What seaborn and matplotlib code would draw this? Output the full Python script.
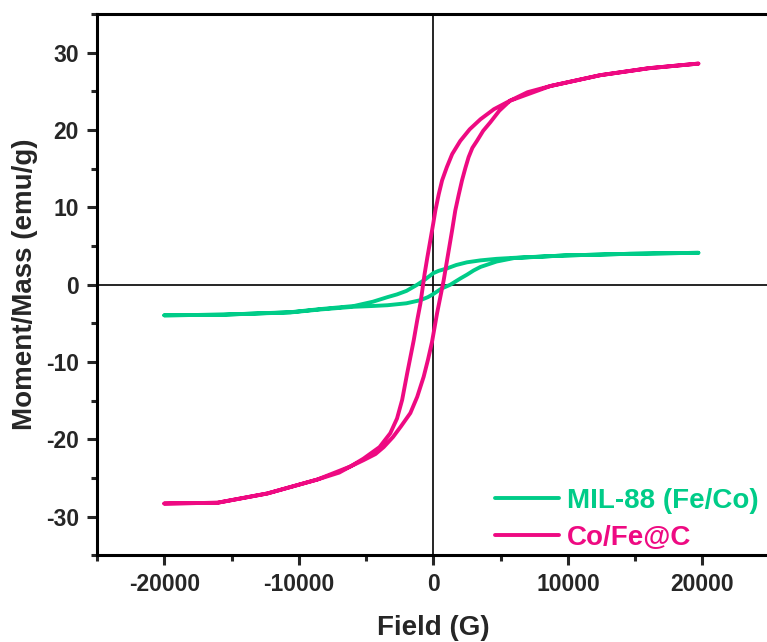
import numpy as np
import pandas as pd
import matplotlib
matplotlib.use("Agg")
import matplotlib.pyplot as plt
import seaborn as sns

# ---- data (field in G, moment in emu/g) ----
mil_desc_field = [19700, 14600, 9700, 6000, 4700, 3500, 2500, 1700, 1000, 400, 0, -600, -1200,
                  -2000, -2700, -3400, -4500, -5900, -8400, -10600, -15600, -20000]
mil_desc_moment = [4.13, 4.0, 3.78, 3.48, 3.35, 3.15, 2.9, 2.55, 2.1, 1.8, 1.5, 0.7, 0.0,
                   -0.8, -1.25, -1.6, -2.2, -2.75, -3.15, -3.55, -3.87, -3.96]
mil_asc_field = [-20000, -15600, -10600, -8400, -5900, -4500, -3400, -2000, -965, -400, 0, 600,
                 1260, 2000, 2500, 3000, 3500, 4700, 6000, 9700, 14600, 19700]
mil_asc_moment = [-3.96, -3.87, -3.58, -3.2, -2.85, -2.75, -2.65, -2.4, -2.0, -1.6, -1.2, -0.5,
                  0.0, 0.8, 1.3, 1.85, 2.3, 3.0, 3.45, 3.78, 4.0, 4.13]

co_desc_field = [19700, 16000, 12400, 8700, 7000, 5700, 4500, 3500, 2700, 2000, 1400, 1000,
                 650, 400, 150, 0, -220, -450, -650, -960, -1200, -1460, -1950, -2320,
                 -2700, -3200, -4000, -5200, -6160, -8630, -12340, -16050, -20000]
co_desc_moment = [28.6, 28.0, 27.1, 25.7, 24.9, 23.8, 22.7, 21.4, 20.1, 18.6, 16.9, 15.2,
                  13.5, 11.7, 9.6, 8.0, 5.8, 3.5, 1.4, -2.4, -4.6, -7.2, -11.5, -14.9,
                  -17.3, -19.2, -21.0, -22.5, -23.5, -25.2, -27.0, -28.2, -28.3]
co_asc_field = [-20000, -16050, -12340, -8630, -7000, -6160, -5200, -4300, -3690, -3000,
                -2400, -1710, -1200, -720, -400, -100, 275, 765, 1100, 1390, 1630, 1880,
                2130, 2380, 2620, 2900, 3240, 3700, 4230, 4900, 5700, 8700, 12400, 16000,
                19700]
co_asc_moment = [-28.3, -28.2, -27.0, -25.2, -24.3, -23.5, -22.7, -21.9, -21.0, -19.7,
                 -18.3, -16.6, -14.5, -11.9, -9.7, -7.4, -3.7, 0.55, 4.0, 7.0, 9.6, 11.6,
                 13.5, 15.1, 16.5, 17.7, 18.6, 19.9, 21.0, 22.5, 23.8, 25.7, 27.1, 28.0,
                 28.6]

series_names = ["MIL-88 (Fe/Co)", "Co/Fe@C"]
series_colors = ["#00CC88", "#EE0A82"]

x_ticks = [-20000, -10000, 0, 10000, 20000]
y_ticks = [-30, -20, -10, 0, 10, 20, 30]

# ---- build tables ----
def loop_frame(df_f, df_m, af, am, name):
    f = list(df_f) + list(af)
    m = list(df_m) + list(am)
    return pd.DataFrame({"Field": f, "Moment": m, "Sample": name,
                         "order": np.arange(len(f))})

mil = loop_frame(mil_desc_field, mil_desc_moment, mil_asc_field, mil_asc_moment, series_names[0])
co = loop_frame(co_desc_field, co_desc_moment, co_asc_field, co_asc_moment, series_names[1])

sns.set_style("white")
plt.rcParams["font.family"] = ["Liberation Sans", "DejaVu Sans"]
plt.rcParams["font.weight"] = "bold"

fig = plt.figure(figsize=(7.67, 6.42), dpi=100)
ax = fig.add_axes([0.1265, 0.135, 0.877, 0.843])

ax.axhline(0, color="black", lw=1.2, zorder=1)
ax.axvline(0, color="black", lw=1.2, zorder=1)

for df, col in zip([mil, co], series_colors):
    sns.lineplot(data=df, x="Field", y="Moment", sort=False, estimator=None,
                 color=col, lw=2.8, ax=ax, label=df["Sample"].iloc[0], zorder=3)

ax.set_xlim(-25000, 25000)
ax.set_ylim(-35, 35)
ax.set_xticks(x_ticks)
ax.set_yticks(y_ticks)
ax.set_xticks(np.arange(-25000, 25001, 5000), minor=True)
ax.set_yticks(np.arange(-35, 36, 5), minor=True)
ax.set_xticklabels([str(v) for v in x_ticks])
ax.set_yticklabels([str(v) for v in y_ticks])

for s in ax.spines.values():
    s.set_linewidth(2.2)
    s.set_color("black")

ax.tick_params(axis="both", which="major", direction="out", length=7, width=2.2,
               labelsize=16.5, pad=6, bottom=True, left=True)
ax.tick_params(axis="both", which="minor", direction="out", length=4.5, width=2.2,
               bottom=True, left=True)
for lab in ax.get_xticklabels() + ax.get_yticklabels():
    lab.set_fontweight("bold")

ax.set_xlabel("Field (G)", fontsize=20, fontweight="bold", labelpad=13.5)
ax.set_ylabel("Moment/Mass (emu/g)", fontsize=20, fontweight="bold", labelpad=6)

leg = ax.legend(loc="lower right", bbox_to_anchor=(1.0, -0.012), frameon=False,
                handlelength=2.3, handletextpad=0.3, borderaxespad=0.0,
                labelspacing=0.4, prop={"weight": "bold", "size": 20})
for txt, col in zip(leg.get_texts(), series_colors):
    txt.set_color(col)
for line in leg.get_lines():
    line.set_linewidth(2.8)

fig.savefig("out.png", dpi=100)
